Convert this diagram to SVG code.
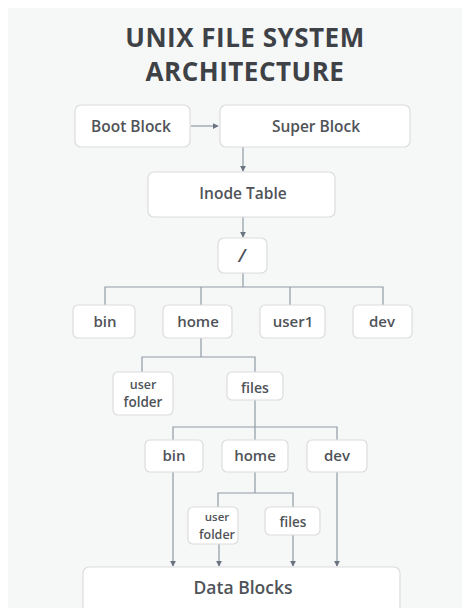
<svg xmlns="http://www.w3.org/2000/svg" width="467" height="608" viewBox="0 0 467 608">
<defs>
<marker id="ah" viewBox="0 0 8 8" refX="7" refY="4" markerWidth="6" markerHeight="6" orient="auto" markerUnits="userSpaceOnUse">
<path d="M0,0 L8,4 L0,8 z" fill="#6a7480"/>
</marker>
<style>
.bx{fill:#ffffff;stroke:#dcdcdc;stroke-width:1.2}
.t{font-family:"Open Sans","Liberation Sans",sans-serif;font-weight:600;fill:#4f5358;text-anchor:middle}
.h{font-family:"Open Sans","Liberation Sans",sans-serif;font-weight:700;fill:#3e4247;text-anchor:middle;font-size:26px;letter-spacing:0.5px}
.ln{fill:none;stroke:#8f9ba6;stroke-width:1.2}
.ar{fill:none;stroke:#8f9ba6;stroke-width:1.2;marker-end:url(#ah)}
</style>
</defs>
<rect x="0" y="0" width="467" height="608" fill="#ffffff"/>
<rect x="8" y="8" width="454" height="600" fill="#f6f7f7"/>
<g id="title">
<text class="h" x="245" y="47">UNIX FILE SYSTEM</text>
<text class="h" x="245" y="81">ARCHITECTURE</text>
</g>
<g id="connectors">
<line class="ar" x1="191" y1="126" x2="218" y2="126"/>
<line class="ar" x1="243" y1="147" x2="243" y2="171"/>
<line class="ar" x1="243" y1="217" x2="243" y2="237"/>
<polyline class="ln" points="243,273 243,287"/>
<polyline class="ln" points="105,305 105,287 383,287 383,305"/>
<line class="ln" x1="201" y1="287" x2="201" y2="305"/>
<line class="ln" x1="290" y1="287" x2="290" y2="305"/>
<line class="ln" x1="201" y1="338" x2="201" y2="357"/>
<polyline class="ln" points="142,372 142,357 255,357 255,372"/>
<line class="ln" x1="255" y1="400" x2="255" y2="427"/>
<polyline class="ln" points="173,440 173,427 337,427 337,440"/>
<line class="ln" x1="255" y1="427" x2="255" y2="440"/>
<line class="ln" x1="255" y1="472" x2="255" y2="493"/>
<polyline class="ln" points="218,507 218,493 293,493 293,507"/>
<line class="ar" x1="173" y1="472" x2="173" y2="566"/>
<line class="ar" x1="219" y1="543" x2="219" y2="566"/>
<line class="ar" x1="293" y1="535" x2="293" y2="566"/>
<line class="ar" x1="337" y1="472" x2="337" y2="566"/>
</g>
<g id="boot-block"><rect class="bx" x="75" y="105" width="115" height="42" rx="6"/><text class="t" x="131" y="132" font-size="15.5">Boot Block</text></g>
<g id="super-block"><rect class="bx" x="220" y="105" width="190" height="42" rx="6"/><text class="t" x="316" y="132" font-size="15.5">Super Block</text></g>
<g id="inode-table"><rect class="bx" x="148" y="172" width="187" height="45" rx="6"/><text class="t" x="243" y="199" font-size="15.5">Inode Table</text></g>
<g id="root"><rect class="bx" x="218" y="238" width="49" height="35" rx="6"/><text class="t" x="242" y="262" font-size="18" style="font-style:italic">/</text></g>
<g id="bin1"><rect class="bx" x="73" y="305" width="62" height="33" rx="5"/><text class="t" x="105" y="327" font-size="15">bin</text></g>
<g id="home1"><rect class="bx" x="163" y="305" width="69" height="33" rx="5"/><text class="t" x="198" y="327" font-size="15">home</text></g>
<g id="user1"><rect class="bx" x="260" y="305" width="65" height="33" rx="5"/><text class="t" x="293" y="327" font-size="15">user1</text></g>
<g id="dev1"><rect class="bx" x="353" y="305" width="59" height="33" rx="5"/><text class="t" x="382" y="327" font-size="15">dev</text></g>
<g id="userfolder1"><rect class="bx" x="113" y="372" width="60" height="43" rx="5"/><text class="t" x="143" y="389" font-size="12.5">user</text><text class="t" x="143" y="407" font-size="13.5">folder</text></g>
<g id="files1"><rect class="bx" x="227" y="372" width="56" height="28" rx="5"/><text class="t" x="255" y="393" font-size="14">files</text></g>
<g id="bin2"><rect class="bx" x="145" y="440" width="58" height="32" rx="5"/><text class="t" x="174" y="461" font-size="15">bin</text></g>
<g id="home2"><rect class="bx" x="222" y="440" width="66" height="32" rx="5"/><text class="t" x="255" y="461" font-size="15">home</text></g>
<g id="dev2"><rect class="bx" x="307" y="440" width="60" height="32" rx="5"/><text class="t" x="337" y="461" font-size="15">dev</text></g>
<g id="userfolder2"><rect class="bx" x="188" y="507" width="50" height="37" rx="5"/><text class="t" x="217" y="521" font-size="11.5">user</text><text class="t" x="217" y="539" font-size="12.5">folder</text></g>
<g id="files2"><rect class="bx" x="265" y="507" width="55" height="28" rx="5"/><text class="t" x="293" y="527" font-size="13.5">files</text></g>
<g id="data-blocks"><rect class="bx" x="83" y="567" width="317" height="50" rx="6"/><text class="t" x="243" y="594" font-size="17.5">Data Blocks</text></g>
</svg>
